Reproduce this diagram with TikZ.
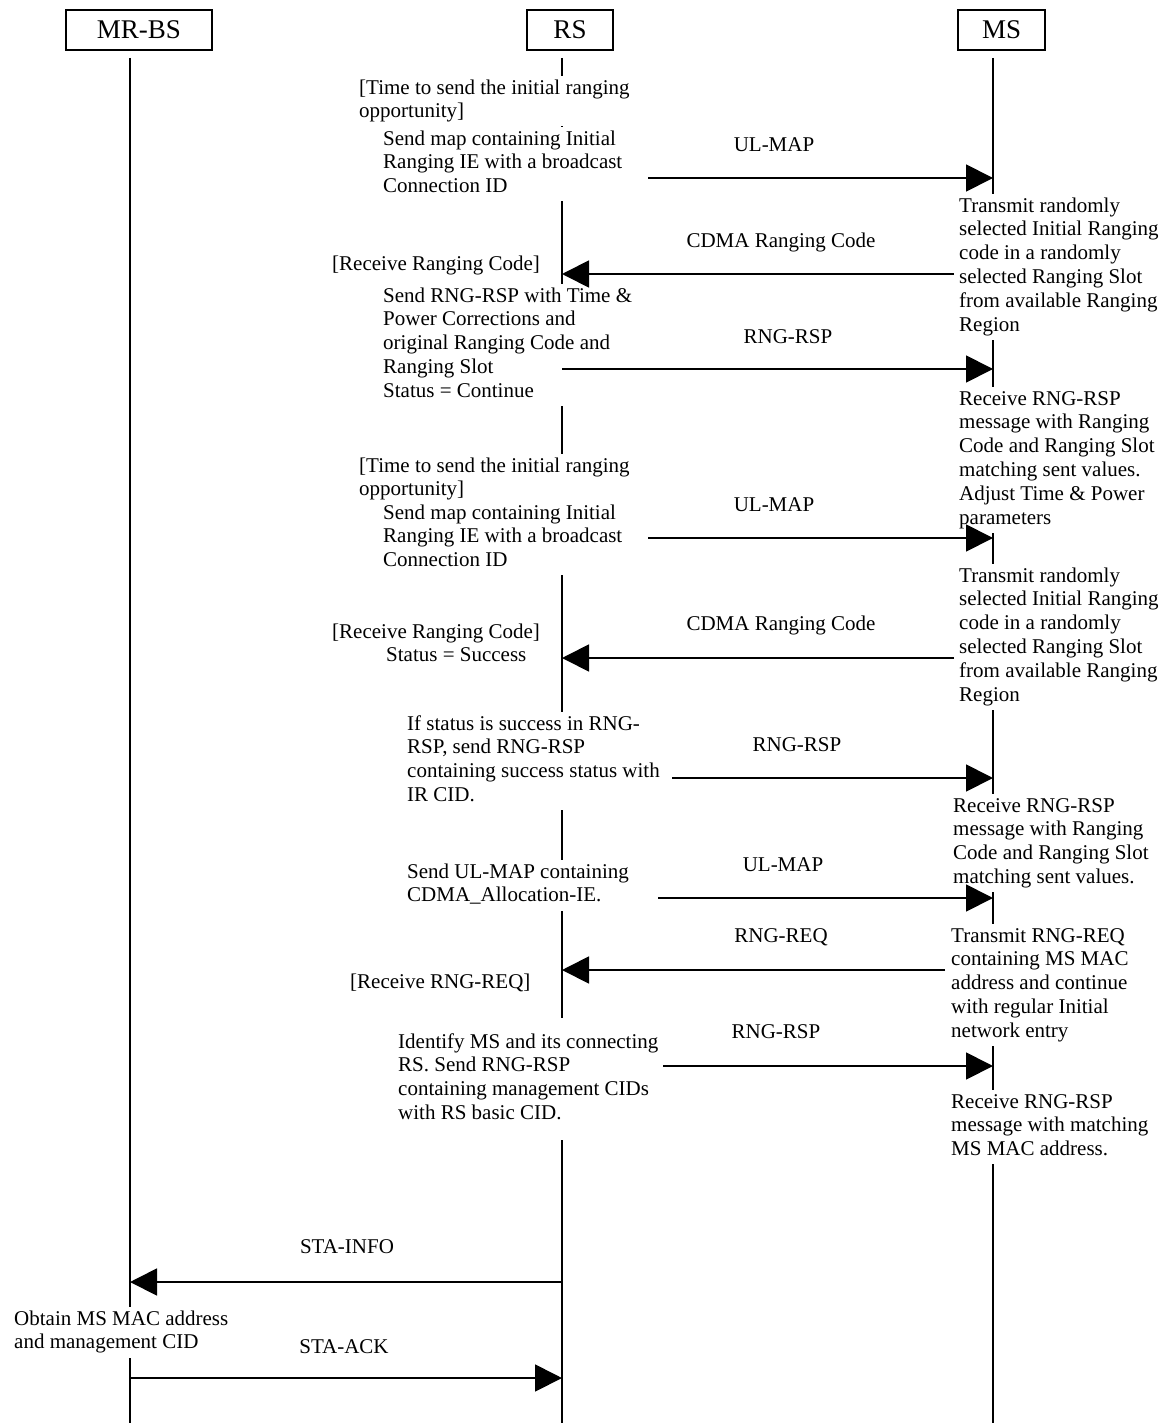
\documentclass[tikz,border=0pt]{standalone}
\usepackage{fontspec}
\setmainfont{Liberation Serif}
\usetikzlibrary{arrows.meta}
\begin{document}
\begin{tikzpicture}[x=1pt,y=-1pt,
  every node/.style={font=\fontsize{21}{23.8}\selectfont},
  actor/.style={draw, line width=1.5pt, minimum height=40pt, inner sep=0pt, font=\fontsize{27}{30}\selectfont},
  life/.style={line width=1.3pt},
  msg/.style={line width=1.8pt, -{Triangle[length=27pt,width=27pt]}},
  lbl/.style={inner sep=0pt},
  basenote/.style={align=left, anchor=north west, fill=white, inner xsep=1.5pt},
  note/.style={basenote, inner ysep=1.5pt, xshift=-1.5pt, yshift=13.3pt},
  tallnote/.style={basenote, inner ysep=13pt, xshift=-1.5pt, yshift=24.8pt}
]
\fill[white] (0,0) rectangle (1172,1423);
\useasboundingbox (0,0) rectangle (1172,1423);

% actors
\node[actor, minimum width=146pt] (mrbs) at (139,30) {MR-BS};
\node[actor, minimum width=86pt]  (rs)   at (570,30) {RS};
\node[actor, minimum width=87pt]  (ms)   at (1001.5,30) {MS};

% lifeline coordinates
\coordinate (bT) at (130,58);  \coordinate (bB) at (130,1423);
\coordinate (rT) at (562,58);  \coordinate (rB) at (562,1423);
\coordinate (mT) at (993,58);  \coordinate (mB) at (993,1423);
\draw[life] (bT) -- (bB);
\draw[life] (rT) -- (rB);
\draw[life] (mT) -- (mB);

% RS notes
\node[note] (n1) at (359,89) {\strut[Time to send the initial ranging\\opportunity]\strut};
\node[note] (n2) at (383,140) {\strut Send map containing Initial\\Ranging IE with a broadcast\\Connection ID\strut};
\node[note] (n3) at (332,265) {\strut[Receive Ranging Code]\strut};
\node[note] (n4) at (383,297) {\strut Send RNG-RSP with Time \&\\Power Corrections and\\original Ranging Code and\\Ranging Slot\\Status = Continue\strut};
\node[note] (n5) at (359,467) {\strut[Time to send the initial ranging\\opportunity]\strut};
\node[note] (n6) at (383,514) {\strut Send map containing Initial\\Ranging IE with a broadcast\\Connection ID\strut};
\node[note] (n7) at (332,633) {\strut[Receive Ranging Code]\strut};
\node[note] (n7b) at (386,656) {\strut Status = Success\strut};
\node[note] (n8) at (407,725) {\strut If status is success in RNG-\\RSP, send RNG-RSP\\containing success status with\\IR CID.\strut};
\node[note] (n9) at (407,873) {\strut Send UL-MAP containing\\CDMA\_Allocation-IE.\strut};
\node[note] (n10) at (350,983) {\strut[Receive RNG-REQ]\strut};
\node[tallnote] (n11) at (398,1043) {\strut Identify MS and its connecting\\RS. Send RNG-RSP\\containing management CIDs\\with RS basic CID.\strut};

% MS notes
\node[note] (m1) at (959,207) {\strut Transmit randomly\\selected Initial Ranging\\code in a randomly\\selected Ranging Slot\\from available Ranging\\Region\strut};
\node[note] (m2) at (959,400) {\strut Receive RNG-RSP\\message with Ranging\\Code and Ranging Slot\\matching sent values.\\Adjust Time \& Power\\parameters\strut};
\node[note] (m3) at (959,577) {\strut Transmit randomly\\selected Initial Ranging\\code in a randomly\\selected Ranging Slot\\from available Ranging\\Region\strut};
\node[note] (m4) at (953,807) {\strut Receive RNG-RSP\\message with Ranging\\Code and Ranging Slot\\matching sent values.\strut};
\node[note] (m5) at (951,937) {\strut Transmit RNG-REQ\\containing MS MAC\\address and continue\\with regular Initial\\network entry\strut};
\node[note] (m6) at (951,1103) {\strut Receive RNG-RSP\\message with matching\\MS MAC address.\strut};

% MR-BS note
\node[note] (b1) at (14,1320) {\strut Obtain MS MAC address\\and management CID\strut};

% message labels
\node[lbl] (l1) at (774,145) {UL-MAP};
\node[lbl] (l2) at (781,242) {CDMA Ranging Code};
\node[lbl] (l3) at (788,337) {RNG-RSP};
\node[lbl] (l4) at (774,505) {UL-MAP};
\node[lbl] (l5) at (781,625) {CDMA Ranging Code};
\node[lbl] (l6) at (797,745) {RNG-RSP};
\node[lbl] (l7) at (783,865) {UL-MAP};
\node[lbl] (l8) at (781,937) {RNG-REQ};
\node[lbl] (l9) at (776,1032) {RNG-RSP};
\node[lbl] (l10) at (347,1247) {STA-INFO};
\node[lbl] (l11) at (344,1347) {STA-ACK};

% arrow end points
\coordinate (a1s) at (648,178);  \coordinate (a1e) at (993,178);
\coordinate (a2s) at (954,274);  \coordinate (a2e) at (562,274);
\coordinate (a3s) at (562,369);  \coordinate (a3e) at (993,369);
\coordinate (a4s) at (648,538);  \coordinate (a4e) at (993,538);
\coordinate (a5s) at (954,658);  \coordinate (a5e) at (562,658);
\coordinate (a6s) at (672,778);  \coordinate (a6e) at (993,778);
\coordinate (a7s) at (658,898);  \coordinate (a7e) at (993,898);
\coordinate (a8s) at (945,970);  \coordinate (a8e) at (562,970);
\coordinate (a9s) at (663,1066); \coordinate (a9e) at (993,1066);
\coordinate (a10s) at (562,1282); \coordinate (a10e) at (130,1282);
\coordinate (a11s) at (130,1378); \coordinate (a11e) at (562,1378);

\draw[msg] (a1s) -- (a1e);
\draw[msg] (a2s) -- (a2e);
\draw[msg] (a3s) -- (a3e);
\draw[msg] (a4s) -- (a4e);
\draw[msg] (a5s) -- (a5e);
\draw[msg] (a6s) -- (a6e);
\draw[msg] (a7s) -- (a7e);
\draw[msg] (a8s) -- (a8e);
\draw[msg] (a9s) -- (a9e);
\draw[msg] (a10s) -- (a10e);
\draw[msg] (a11s) -- (a11e);
\end{tikzpicture}
\end{document}
